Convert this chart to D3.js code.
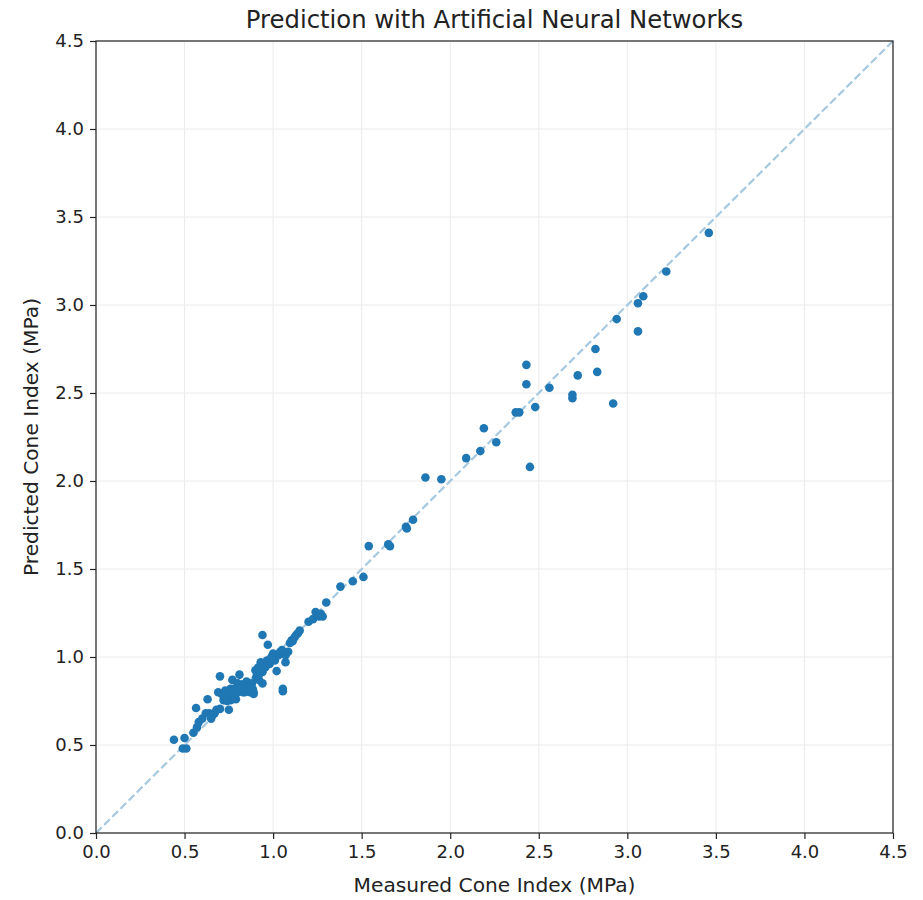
<!DOCTYPE html>
<html>
<head>
<meta charset="utf-8">
<script src="https://cdn.jsdelivr.net/npm/d3@7"></script>
<style>
  body { margin: 0; background: #fff; }
  svg { display: block; font-family: "DejaVu Sans", sans-serif; }
</style>
</head>
<body>
<div id="chart"></div>
<script>
// Measured cone index (MPa)
const measured = [
  0.44,0.50,0.49,0.51,0.55,0.57,0.565,0.58,0.60,0.62,0.63,0.64,0.65,0.67,0.68,
  0.70,0.69,0.70,0.71,0.72,0.73,0.745,0.75,0.76,0.76,0.77,0.77,0.78,0.79,0.80,
  0.80,0.81,0.82,0.83,0.84,0.85,0.86,0.87,0.88,0.885,0.89,0.90,0.905,0.915,0.92,
  0.93,0.94,0.94,0.94,0.955,0.965,0.97,0.98,0.995,1.00,1.01,1.02,1.03,1.04,1.05,
  1.055,1.055,1.07,1.07,1.085,1.095,1.105,1.12,1.13,1.14,1.15,1.20,1.225,1.24,1.26,
  1.27,1.28,1.30,1.38,1.45,1.51,1.54,1.65,1.66,1.75,1.755,1.79,1.86,1.95,2.09,
  2.17,2.19,2.26,2.37,2.39,2.43,2.43,2.45,2.48,2.56,2.69,2.69,2.72,2.82,2.83,
  2.92,2.94,3.06,3.06,3.09,3.22,3.46,
  0.66,0.74,0.78,0.83,0.87,0.91,0.96,0.99,1.11,0.73,0.81,0.89,0.75,0.85,0.92
];
// Predicted cone index (MPa)
const predicted = [
  0.53,0.54,0.48,0.48,0.57,0.60,0.71,0.63,0.65,0.68,0.76,0.68,0.65,0.68,0.70,
  0.89,0.80,0.705,0.79,0.755,0.81,0.78,0.70,0.82,0.755,0.87,0.79,0.82,0.76,0.85,
  0.80,0.90,0.81,0.845,0.80,0.86,0.82,0.80,0.85,0.82,0.79,0.925,0.885,0.94,0.87,
  0.97,0.915,1.125,0.85,0.94,0.98,1.07,0.96,0.99,1.02,0.98,0.92,1.01,1.03,1.04,
  0.82,0.805,0.97,1.01,1.03,1.08,1.095,1.11,1.125,1.135,1.15,1.20,1.215,1.255,1.23,
  1.245,1.23,1.31,1.40,1.43,1.455,1.63,1.64,1.63,1.74,1.73,1.78,2.02,2.01,2.13,
  2.17,2.30,2.22,2.39,2.39,2.66,2.55,2.08,2.42,2.53,2.49,2.47,2.60,2.75,2.62,
  2.44,2.92,3.01,2.85,3.05,3.19,3.41,
  0.67,0.75,0.77,0.80,0.83,0.90,0.95,1.00,1.09,0.78,0.84,0.80,0.80,0.83,0.90
];
const xTicks = [0.0,0.5,1.0,1.5,2.0,2.5,3.0,3.5,4.0,4.5];
const yTicks = [0.0,0.5,1.0,1.5,2.0,2.5,3.0,3.5,4.0,4.5];
const refLine = [0, 4.5];
const titleText = "Prediction with Artificial Neural Networks";
const xLabel = "Measured Cone Index (MPa)";
const yLabel = "Predicted Cone Index (MPa)";

const W = 923, H = 900;
const m = {left: 96, right: 30, top: 41, bottom: 67};
const svg = d3.select("#chart").append("svg").attr("width", W).attr("height", H);

const x = d3.scaleLinear().domain([0, 4.5]).range([m.left, W - m.right]);
const y = d3.scaleLinear().domain([0, 4.5]).range([H - m.bottom, m.top]);

// grid
const g = svg.append("g");
g.selectAll(".vg").data(xTicks).join("line")
  .attr("x1", d => x(d)).attr("x2", d => x(d))
  .attr("y1", y(0)).attr("y2", y(4.5))
  .attr("stroke", "#ebebeb").attr("stroke-width", 1);
g.selectAll(".hg").data(yTicks).join("line")
  .attr("y1", d => y(d)).attr("y2", d => y(d))
  .attr("x1", x(0)).attr("x2", x(4.5))
  .attr("stroke", "#ebebeb").attr("stroke-width", 1);

// reference line
svg.append("line")
  .attr("x1", x(refLine[0])).attr("y1", y(refLine[0]))
  .attr("x2", x(refLine[1])).attr("y2", y(refLine[1]))
  .attr("stroke", "#a6c8e1").attr("stroke-width", 2.2)
  .attr("stroke-dasharray", "8,3.5");

// points
const pts = measured.map((v, i) => ({m: v, p: predicted[i]}));
svg.append("g").selectAll("circle").data(pts).join("circle")
  .attr("cx", d => x(d.m)).attr("cy", d => y(d.p)).attr("r", 4.3)
  .attr("fill", "#1f77b4");

// axes
const fmt = d3.format(".1f");
const xAxis = svg.append("g").attr("transform", `translate(0,${y(0)})`)
  .call(d3.axisBottom(x).tickValues(xTicks).tickFormat(fmt).tickSize(6).tickPadding(6));
const yAxis = svg.append("g").attr("transform", `translate(${x(0)},0)`)
  .call(d3.axisLeft(y).tickValues(yTicks).tickFormat(fmt).tickSize(6).tickPadding(6));
[xAxis, yAxis].forEach(a => {
  a.selectAll("text").attr("font-size", 18).attr("fill", "#222").attr("font-family", "DejaVu Sans");
  a.selectAll("line").attr("stroke", "#222").attr("stroke-width", 1.2);
  a.select(".domain").remove();
});
// frame
svg.append("rect").attr("x", x(0)).attr("y", y(4.5))
  .attr("width", x(4.5) - x(0)).attr("height", y(0) - y(4.5))
  .attr("fill", "none").attr("stroke", "#222").attr("stroke-width", 1.2);

svg.append("text").attr("x", (x(0) + x(4.5)) / 2).attr("y", 28)
  .attr("text-anchor", "middle").attr("font-size", 24.3).attr("fill", "#222").text(titleText);
svg.append("text").attr("x", (x(0) + x(4.5)) / 2).attr("y", 892)
  .attr("text-anchor", "middle").attr("font-size", 20.2).attr("fill", "#222").text(xLabel);
svg.append("text").attr("transform", `translate(38,${(y(0) + y(4.5)) / 2}) rotate(-90)`)
  .attr("text-anchor", "middle").attr("font-size", 20.2).attr("fill", "#222").text(yLabel);
</script>
</body>
</html>
